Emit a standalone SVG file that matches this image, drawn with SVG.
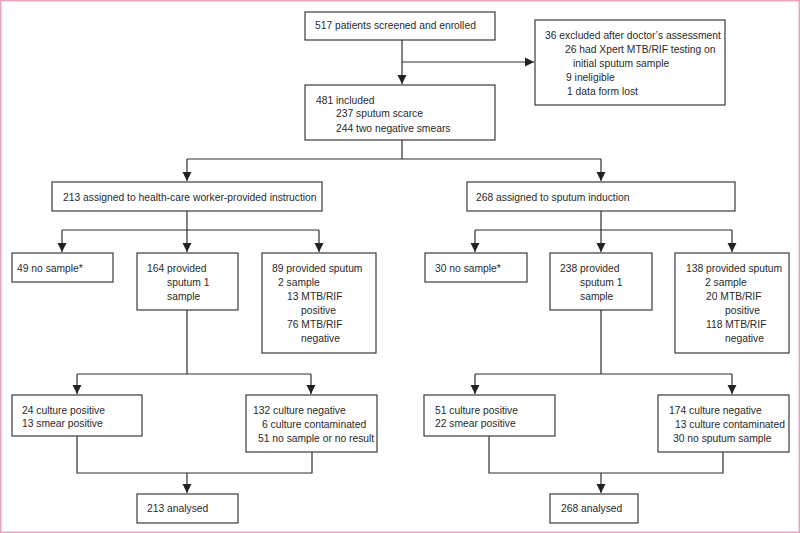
<svg xmlns="http://www.w3.org/2000/svg" width="800" height="533" viewBox="0 0 800 533">
<style>
.b{fill:#fff;stroke:#3a3a3a;stroke-width:1.2}
.t{font-family:"Liberation Sans",Arial,sans-serif;font-size:10.3px;fill:#2a2a2a}
.c{fill:none;stroke:#2f2f2f;stroke-width:1.2}
</style>
<defs>
<marker id="ah" markerUnits="userSpaceOnUse" markerWidth="10" markerHeight="10" viewBox="0 0 10 10" refX="9" refY="5" orient="auto">
<path d="M0,0.5 L9,5 L0,9.5 Z" fill="#222"/>
</marker>
</defs>
<rect x="0.75" y="0.75" width="798.5" height="531.5" fill="#fff" stroke="#e8a6c0" stroke-width="1.5"/>
<g id="connectors">
<path class="c" d="M402,40 V84" marker-end="url(#ah)"/>
<path class="c" d="M402,62 H534" marker-end="url(#ah)"/>
<path class="c" d="M402,140 V159 M187,159 H601"/>
<path class="c" d="M187,159 V181" marker-end="url(#ah)"/>
<path class="c" d="M601,159 V181" marker-end="url(#ah)"/>
<path class="c" d="M187,211 V230 M62,230 H319"/>
<path class="c" d="M62,230 V252" marker-end="url(#ah)"/>
<path class="c" d="M187,230 V252" marker-end="url(#ah)"/>
<path class="c" d="M319,230 V252" marker-end="url(#ah)"/>
<path class="c" d="M601,211 V230 M475,230 H732"/>
<path class="c" d="M475,230 V252" marker-end="url(#ah)"/>
<path class="c" d="M601,230 V252" marker-end="url(#ah)"/>
<path class="c" d="M732,230 V252" marker-end="url(#ah)"/>
<path class="c" d="M187,310 V374 M77,374 H311"/>
<path class="c" d="M77,374 V394" marker-end="url(#ah)"/>
<path class="c" d="M311,374 V394" marker-end="url(#ah)"/>
<path class="c" d="M77,436 V473 H312 V452"/>
<path class="c" d="M187,473 V493" marker-end="url(#ah)"/>
<path class="c" d="M601,310 V374 M475,374 H732"/>
<path class="c" d="M475,374 V394" marker-end="url(#ah)"/>
<path class="c" d="M732,374 V394" marker-end="url(#ah)"/>
<path class="c" d="M489,436 V473 H723 V452"/>
<path class="c" d="M601,473 V493" marker-end="url(#ah)"/>
</g>
<g id="n-screened"><rect class="b" x="305" y="12" width="190" height="28"/><text class="t" x="315" y="29">517 patients screened and enrolled</text></g>
<g id="n-excluded"><rect class="b" x="535" y="20" width="190" height="85"/>
<text class="t" x="545" y="39">36 excluded after doctor’s assessment</text>
<text class="t" x="565" y="53">26 had Xpert MTB/RIF testing on</text>
<text class="t" x="573" y="67">initial sputum sample</text>
<text class="t" x="566" y="81">9 ineligible</text>
<text class="t" x="567" y="95">1 data form lost</text></g>
<g id="n-included"><rect class="b" x="305" y="85" width="190" height="55"/>
<text class="t" x="316" y="104">481 included</text>
<text class="t" x="336" y="117">237 sputum scarce</text>
<text class="t" x="336" y="132">244 two negative smears</text></g>
<g id="n-hcw"><rect class="b" x="52" y="182" width="270" height="29"/><text class="t" x="63" y="201">213 assigned to health-care worker-provided instruction</text></g>
<g id="n-si"><rect class="b" x="467" y="182" width="268" height="29"/><text class="t" x="476" y="201">268 assigned to sputum induction</text></g>
<g id="n-hcw-none"><rect class="b" x="12" y="253" width="101" height="29"/><text class="t" x="17" y="272">49 no sample*</text></g>
<g id="n-hcw-one"><rect class="b" x="137" y="253" width="101" height="57"/>
<text class="t" x="147" y="272">164 provided</text>
<text class="t" x="167" y="286">sputum 1</text>
<text class="t" x="167" y="300">sample</text></g>
<g id="n-hcw-two"><rect class="b" x="262" y="253" width="114" height="100"/>
<text class="t" x="272" y="272">89 provided sputum</text>
<text class="t" x="278" y="286">2 sample</text>
<text class="t" x="287" y="300">13 MTB/RIF</text>
<text class="t" x="301" y="314">positive</text>
<text class="t" x="287" y="328">76 MTB/RIF</text>
<text class="t" x="301" y="342">negative</text></g>
<g id="n-si-none"><rect class="b" x="425" y="253" width="102" height="29"/><text class="t" x="435" y="272">30 no sample*</text></g>
<g id="n-si-one"><rect class="b" x="550" y="253" width="102" height="57"/>
<text class="t" x="560" y="272">238 provided</text>
<text class="t" x="580" y="286">sputum 1</text>
<text class="t" x="580" y="300">sample</text></g>
<g id="n-si-two"><rect class="b" x="675" y="253" width="114" height="100"/>
<text class="t" x="686" y="272">138 provided sputum</text>
<text class="t" x="705" y="286">2 sample</text>
<text class="t" x="706" y="300">20 MTB/RIF</text>
<text class="t" x="725" y="314">positive</text>
<text class="t" x="706" y="328">118 MTB/RIF</text>
<text class="t" x="725" y="342">negative</text></g>
<g id="n-hcw-pos"><rect class="b" x="12" y="395" width="130" height="41"/>
<text class="t" x="22" y="414">24 culture positive</text>
<text class="t" x="22" y="427">13 smear positive</text></g>
<g id="n-hcw-neg"><rect class="b" x="246" y="395" width="131" height="57"/>
<text class="t" x="253" y="414">132 culture negative</text>
<text class="t" x="262" y="428">6 culture contaminated</text>
<text class="t" x="258" y="442">51 no sample or no result</text></g>
<g id="n-hcw-an"><rect class="b" x="137" y="494" width="101" height="29"/><text class="t" x="147" y="512">213 analysed</text></g>
<g id="n-si-pos"><rect class="b" x="424" y="395" width="131" height="41"/>
<text class="t" x="435" y="414">51 culture positive</text>
<text class="t" x="435" y="427">22 smear positive</text></g>
<g id="n-si-neg"><rect class="b" x="658" y="395" width="131" height="57"/>
<text class="t" x="669" y="414">174 culture negative</text>
<text class="t" x="675" y="428">13 culture contaminated</text>
<text class="t" x="673" y="442">30 no sputum sample</text></g>
<g id="n-si-an"><rect class="b" x="550" y="494" width="88" height="29"/><text class="t" x="561" y="512">268 analysed</text></g>
</svg>
